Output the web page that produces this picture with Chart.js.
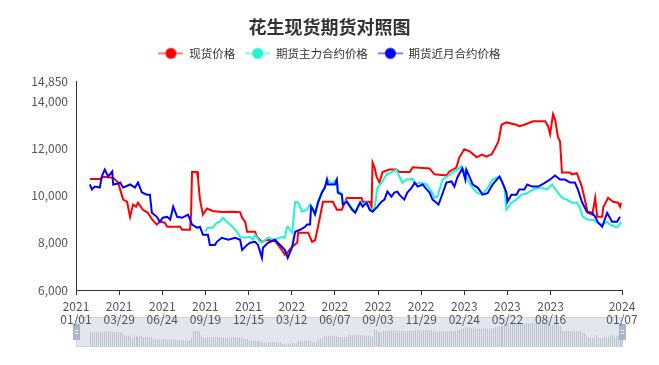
<!DOCTYPE html>
<html>
<head>
<meta charset="utf-8">
<script src="https://cdn.jsdelivr.net/npm/chart.js@4"></script>
<style>
    html, body { margin: 0; padding: 0; background: #fff; }
</style>
</head>
<body>
<canvas id="js--chart" width="659" height="365"></canvas>
<script>
const firstDay = '2021/01/01';
const lastDay = '2024/01/07';
// the source date list is not perfectly daily: one day is missing, one repeats
const skippedDays = ['2022/07/31'];
const repeatedDays = ['2023/07/02'];
const tickEvery = 87;

const seriesNames = ['现货价格', '期货主力合约价格', '期货近月合约价格'];
const seriesColors = ['#ff0000', '#1ff5cf', '#0000ff'];
const priceTicks = [6000, 8000, 10000, 12000, 14000, 14850];

const spotPrice = [
    ['2021/01/29', 10700], ['2021/02/18', 10700], ['2021/02/26', 10800], ['2021/03/17', 10750],
    ['2021/03/27', 10550], ['2021/04/06', 9830], ['2021/04/14', 9740], ['2021/04/20', 9100],
    ['2021/04/26', 9620], ['2021/05/02', 9530], ['2021/05/06', 9700], ['2021/05/16', 9400],
    ['2021/05/26', 9270], ['2021/06/03', 9000], ['2021/06/13', 8770], ['2021/06/19', 8900],
    ['2021/06/29', 8850], ['2021/07/04', 8680], ['2021/07/30', 8680], ['2021/08/03', 8550],
    ['2021/08/19', 8550], ['2021/08/21', 9200], ['2021/08/23', 11000], ['2021/09/02', 11000],
    ['2021/09/04', 10700], ['2021/09/08', 9830], ['2021/09/14', 9190], ['2021/09/22', 9450],
    ['2021/10/04', 9350], ['2021/10/22', 9300], ['2021/11/12', 9320], ['2021/11/28', 9300],
    ['2021/12/02', 9060], ['2021/12/08', 8900], ['2021/12/12', 8470], ['2021/12/28', 8470],
    ['2022/01/01', 8250], ['2022/01/11', 8040], ['2022/01/21', 8130], ['2022/02/06', 8080],
    ['2022/02/20', 7700], ['2022/02/26', 7490], ['2022/03/04', 7600], ['2022/03/13', 7830],
    ['2022/03/23', 8000], ['2022/03/25', 8430], ['2022/04/14', 8430], ['2022/04/22', 8040],
    ['2022/04/28', 8100], ['2022/05/04', 8680], ['2022/05/08', 9100], ['2022/05/14', 9740],
    ['2022/06/03', 9740], ['2022/06/11', 9400], ['2022/06/21', 9400], ['2022/07/01', 9900],
    ['2022/08/01', 9900], ['2022/08/03', 9740], ['2022/08/17', 9740], ['2022/08/21', 9530],
    ['2022/08/23', 11400], ['2022/08/27', 11200], ['2022/08/31', 10800], ['2022/09/06', 10550],
    ['2022/09/12', 11000], ['2022/09/26', 11100], ['2022/10/10', 11100], ['2022/10/16', 11000],
    ['2022/11/06', 11000], ['2022/11/12', 11200], ['2022/12/16', 11150], ['2022/12/26', 10900],
    ['2023/01/19', 10850], ['2023/01/25', 11020], ['2023/02/08', 11190], ['2023/02/14', 11620],
    ['2023/02/24', 11960], ['2023/03/07', 11870], ['2023/03/21', 11620], ['2023/03/31', 11740],
    ['2023/04/10', 11650], ['2023/04/20', 11750], ['2023/04/26', 11960], ['2023/05/04', 12300],
    ['2023/05/10', 13000], ['2023/05/20', 13100], ['2023/06/09', 13000], ['2023/06/15', 12940],
    ['2023/06/25', 13000], ['2023/07/12', 13150], ['2023/08/05', 13150], ['2023/08/11', 12940],
    ['2023/08/15', 12600], ['2023/08/21', 13450], ['2023/08/25', 13230], ['2023/08/31', 12470],
    ['2023/09/04', 12300], ['2023/09/08', 10980], ['2023/09/24', 10980], ['2023/09/28', 10900],
    ['2023/10/08', 10950], ['2023/10/18', 10380], ['2023/10/24', 9830], ['2023/10/30', 9270],
    ['2023/11/08', 9190], ['2023/11/14', 9900], ['2023/11/18', 9100], ['2023/11/28', 9100],
    ['2023/11/30', 9490], ['2023/12/10', 9910], ['2023/12/20', 9740], ['2023/12/30', 9700],
    ['2024/01/03', 9530], ['2024/01/05', 9700]
];

const mainPrice = [
    ['2021/09/18', 8470], ['2021/09/24', 8640], ['2021/10/04', 8640], ['2021/10/12', 8850],
    ['2021/10/18', 8890], ['2021/10/24', 9060], ['2021/11/01', 8890], ['2021/11/08', 8770],
    ['2021/11/14', 8640], ['2021/11/22', 8470], ['2021/11/28', 8250], ['2021/12/08', 8210],
    ['2021/12/18', 8250], ['2021/12/24', 8130], ['2021/12/28', 8340], ['2022/01/07', 8040],
    ['2022/01/13', 8040], ['2022/01/23', 8210], ['2022/02/06', 8130], ['2022/02/20', 8250],
    ['2022/02/26', 8210], ['2022/03/02', 8640], ['2022/03/04', 8680], ['2022/03/13', 8430],
    ['2022/03/19', 9740], ['2022/03/25', 9700], ['2022/04/02', 9320], ['2022/04/12', 9400],
    ['2022/04/18', 9620], ['2022/04/24', 9450], ['2022/04/28', 9250], ['2022/05/04', 9750],
    ['2022/05/12', 10180], ['2022/05/18', 10380], ['2022/05/22', 10700], ['2022/06/01', 10500],
    ['2022/06/11', 10700], ['2022/06/13', 10180], ['2022/06/21', 10080], ['2022/06/23', 9680],
    ['2022/07/01', 9780], ['2022/07/12', 9450], ['2022/07/18', 9320], ['2022/07/28', 9740],
    ['2022/08/03', 9580], ['2022/08/11', 9740], ['2022/08/17', 9450], ['2022/08/23', 9370],
    ['2022/08/27', 9490], ['2022/09/02', 10340], ['2022/09/12', 10600], ['2022/09/20', 10890],
    ['2022/09/30', 10980], ['2022/10/10', 11100], ['2022/10/16', 10810], ['2022/10/22', 10550],
    ['2022/10/30', 10680], ['2022/11/12', 10700], ['2022/11/16', 10470], ['2022/11/26', 10550],
    ['2022/12/10', 10470], ['2022/12/20', 10170], ['2022/12/26', 9910], ['2023/01/01', 9960],
    ['2023/01/11', 10680], ['2023/01/21', 10810], ['2023/01/31', 10980], ['2023/02/10', 11100],
    ['2023/02/18', 11230], ['2023/02/24', 11050], ['2023/03/02', 10680], ['2023/03/11', 10380],
    ['2023/03/21', 10130], ['2023/03/31', 10040], ['2023/04/10', 10260], ['2023/04/22', 10680],
    ['2023/05/06', 10810], ['2023/05/16', 10340], ['2023/05/20', 9400], ['2023/05/30', 9700],
    ['2023/06/09', 9830], ['2023/06/19', 10040], ['2023/06/29', 10080], ['2023/07/12', 10260],
    ['2023/07/26', 10340], ['2023/08/09', 10260], ['2023/08/19', 10470], ['2023/08/29', 10170],
    ['2023/09/08', 9910], ['2023/09/18', 9830], ['2023/09/28', 9700], ['2023/10/08', 9700],
    ['2023/10/14', 9490], ['2023/10/20', 9100], ['2023/10/30', 8980], ['2023/11/10', 8980],
    ['2023/11/18', 8850], ['2023/11/28', 8770], ['2023/12/08', 8890], ['2023/12/14', 8770],
    ['2023/12/24', 8680], ['2023/12/30', 8680], ['2024/01/05', 8890]
];

const nearPrice = [
    ['2021/01/29', 10470], ['2021/02/02', 10260], ['2021/02/08', 10380], ['2021/02/18', 10340],
    ['2021/02/22', 10810], ['2021/02/28', 11100], ['2021/03/07', 10800], ['2021/03/15', 11020],
    ['2021/03/17', 10470], ['2021/03/25', 10500], ['2021/03/31', 10550], ['2021/04/06', 10340],
    ['2021/04/20', 10470], ['2021/04/30', 10340], ['2021/05/06', 10550], ['2021/05/14', 10130],
    ['2021/05/24', 10040], ['2021/05/30', 10040], ['2021/06/03', 9270], ['2021/06/13', 9100],
    ['2021/06/19', 8890], ['2021/06/25', 9060], ['2021/07/04', 9100], ['2021/07/10', 8980],
    ['2021/07/16', 9530], ['2021/07/24', 9100], ['2021/08/03', 9060], ['2021/08/15', 9190],
    ['2021/08/23', 8770], ['2021/09/02', 8640], ['2021/09/08', 8680], ['2021/09/14', 8340],
    ['2021/09/24', 8340], ['2021/09/28', 7910], ['2021/10/08', 7910], ['2021/10/12', 8040],
    ['2021/10/22', 8210], ['2021/11/04', 8130], ['2021/11/18', 8210], ['2021/11/28', 8130],
    ['2021/12/02', 7700], ['2021/12/12', 7910], ['2021/12/18', 8000], ['2021/12/28', 8040],
    ['2022/01/03', 7910], ['2022/01/11', 7360], ['2022/01/13', 7790], ['2022/01/23', 8000],
    ['2022/02/06', 8130], ['2022/02/20', 7830], ['2022/02/26', 7700], ['2022/03/02', 7490],
    ['2022/03/04', 7360], ['2022/03/13', 7830], ['2022/03/19', 8470], ['2022/03/29', 8550],
    ['2022/04/08', 8680], ['2022/04/12', 8770], ['2022/04/18', 8770], ['2022/04/20', 9530],
    ['2022/04/24', 9400], ['2022/04/28', 9200], ['2022/05/04', 9700], ['2022/05/12', 10130],
    ['2022/05/18', 10340], ['2022/05/22', 10680], ['2022/05/24', 10470], ['2022/06/01', 10470],
    ['2022/06/07', 10470], ['2022/06/11', 10680], ['2022/06/13', 10130], ['2022/06/21', 10040],
    ['2022/06/23', 9620], ['2022/07/01', 9740], ['2022/07/12', 9400], ['2022/07/18', 9270],
    ['2022/07/28', 9700], ['2022/08/03', 9530], ['2022/08/11', 9700], ['2022/08/17', 9400],
    ['2022/08/23', 9320], ['2022/09/02', 9530], ['2022/09/10', 9740], ['2022/09/16', 9830],
    ['2022/09/22', 10170], ['2022/09/30', 9960], ['2022/10/06', 10130], ['2022/10/12', 10170],
    ['2022/10/16', 10040], ['2022/10/26', 9830], ['2022/11/01', 10130], ['2022/11/10', 10340],
    ['2022/11/16', 10550], ['2022/11/22', 10380], ['2022/12/02', 10470], ['2022/12/10', 10260],
    ['2022/12/16', 10130], ['2022/12/22', 9830], ['2022/12/30', 9700], ['2023/01/03', 9620],
    ['2023/01/09', 9960], ['2023/01/19', 10550], ['2023/01/29', 10600], ['2023/02/04', 10380],
    ['2023/02/10', 10770], ['2023/02/20', 11150], ['2023/02/26', 10680], ['2023/02/28', 11100],
    ['2023/03/07', 10770], ['2023/03/13', 10470], ['2023/03/23', 10340], ['2023/04/02', 10040],
    ['2023/04/12', 10100], ['2023/04/22', 10470], ['2023/05/06', 10810], ['2023/05/12', 10550],
    ['2023/05/20', 10130], ['2023/05/22', 9740], ['2023/05/30', 10040], ['2023/06/09', 10040],
    ['2023/06/15', 10260], ['2023/06/25', 10260], ['2023/07/01', 10470], ['2023/07/10', 10380],
    ['2023/07/22', 10380], ['2023/07/30', 10470], ['2023/08/09', 10600], ['2023/08/15', 10680],
    ['2023/08/25', 10850], ['2023/09/04', 10680], ['2023/09/14', 10680], ['2023/09/24', 10550],
    ['2023/10/04', 10550], ['2023/10/10', 10260], ['2023/10/18', 9740], ['2023/10/28', 9320],
    ['2023/11/08', 9270], ['2023/11/14', 9100], ['2023/11/20', 8850], ['2023/11/28', 8680],
    ['2023/12/08', 9270], ['2023/12/18', 8890], ['2023/12/28', 8890], ['2024/01/03', 9100]
];

Chart.defaults.font.family = "'Noto Sans CJK SC', 'Noto Sans', sans-serif";

function fmt(d) {
    const m = String(d.getUTCMonth() + 1).padStart(2, '0');
    const day = String(d.getUTCDate()).padStart(2, '0');
    return `${d.getUTCFullYear()}/${m}/${day}`;
}

function makeLabels() {
    const labels = [];
    const [y, m, day] = firstDay.split('/').map(Number);
    const d = new Date(Date.UTC(y, m - 1, day));
    while (true) {
        const l = fmt(d);
        if (!skippedDays.includes(l)) labels.push(l);
        if (repeatedDays.includes(l)) labels.push(l);
        if (l === lastDay) break;
        d.setUTCDate(d.getUTCDate() + 1);
    }
    return labels;
}

const labels = makeLabels();
const lastIndex = labels.length - 1;

// one slot per category, null where there is no quote
function toDaily(points) {
    const out = new Array(labels.length).fill(null);
    points.forEach(([date, value]) => {
        const i = labels.indexOf(date);
        if (i >= 0) out[i] = value;
    });
    return out;
}

function legendIcon(color) {
    const c = document.createElement('canvas');
    c.width = 25;
    c.height = 14;
    const ctx = c.getContext('2d');
    ctx.globalAlpha = 0.5;
    ctx.strokeStyle = color;
    ctx.lineWidth = 2;
    ctx.beginPath();
    ctx.moveTo(0, 7);
    ctx.lineTo(25, 7);
    ctx.stroke();
    ctx.globalAlpha = 1;
    ctx.fillStyle = color;
    ctx.beginPath();
    ctx.arc(12.5, 7, 5.5, 0, Math.PI * 2);
    ctx.fill();
    return c;
}

// leave some room between the legend and the plot
const legendGap = {
    id: 'legendGap',
    beforeInit(chart) {
        const fit = chart.legend.fit;
        chart.legend.fit = function () {
            fit.bind(chart.legend)();
            this.height += 12;
        };
    }
};

// the zoom slider strip under the axis, with the spot price as its shadow
const sliderPlugin = {
    id: 'slider',
    beforeDraw(chart) {
        const { ctx, chartArea, scales: { x } } = chart;
        const top = chartArea.bottom + 27;
        const h = 30;
        const left = chartArea.left;
        const right = chartArea.right;
        ctx.save();
        ctx.fillStyle = '#e2e6ee';
        ctx.fillRect(left, top, right - left, h);

        const data = chart.data.datasets[0].data;
        let last = null;
        ctx.strokeStyle = 'rgba(175,183,198,0.75)';
        ctx.lineWidth = 1;
        ctx.beginPath();
        for (let i = 0; i < data.length; i++) {
            if (data[i] != null) last = data[i];
            if (last == null || i % 4) continue;
            const px = Math.round(x.getPixelForValue(i)) + 0.5;
            const bh = (last - 6800) / 6800 * 26;
            ctx.moveTo(px, top + h);
            ctx.lineTo(px, top + h - bh);
        }
        ctx.stroke();

        ctx.strokeStyle = '#cdd3de';
        ctx.strokeRect(left + 0.5, top + 0.5, right - left - 1, h - 1);

        [left, right].forEach(cx => {
            ctx.fillStyle = '#a9b7cc';
            ctx.fillRect(cx - 3, top + 7, 7, 16);
            ctx.strokeStyle = '#fff';
            ctx.beginPath();
            ctx.moveTo(cx - 1, top + 13.5);
            ctx.lineTo(cx + 2, top + 13.5);
            ctx.moveTo(cx - 1, top + 16.5);
            ctx.lineTo(cx + 2, top + 16.5);
            ctx.stroke();
        });
        ctx.restore();
    }
};

const seriesData = [spotPrice, mainPrice, nearPrice];

const config = {
    type: 'line',
    data: {
        labels: labels,
        datasets: seriesData.map((points, i) => ({
            label: seriesNames[i],
            data: toDaily(points),
            borderColor: seriesColors[i],
            backgroundColor: seriesColors[i],
            pointStyle: legendIcon(seriesColors[i]),
            order: 3 - i
        }))
    },
    options: {
        responsive: false,
        animation: false,
        spanGaps: true,
        elements: {
            point: { radius: 0, hoverRadius: 0 },
            line: { borderWidth: 2, tension: 0 }
        },
        plugins: {
            title: {
                display: true,
                text: '花生现货期货对照图',
                color: '#333',
                font: { size: 18, weight: 'bold' },
                padding: { top: 16, bottom: 0 }
            },
            legend: {
                labels: {
                    usePointStyle: true,
                    pointStyleWidth: 25,
                    color: '#333',
                    font: { size: 11.5 },
                    padding: 10,
                    sort: (a, b) => a.datasetIndex - b.datasetIndex
                }
            },
            tooltip: { enabled: false }
        },
        scales: {
            x: {
                ticks: {
                    autoSkip: false,
                    maxRotation: 0,
                    color: '#555',
                    font: { size: 12, lineHeight: 1.1 },
                    padding: 5,
                    callback: function (value) {
                        const l = this.getLabelForValue(value);
                        return [l.slice(0, 4), l.slice(5)];
                    }
                },
                grid: { drawOnChartArea: false, tickLength: 5, color: '#333' },
                border: { color: '#333' },
                afterBuildTicks: scale => {
                    scale.ticks = scale.ticks.filter(t =>
                        (t.value % tickEvery === 0 && t.value <= lastIndex - tickEvery) || t.value === lastIndex);
                },
                afterFit: scale => {
                    scale.height = 75;
                    scale.paddingRight = 37;
                }
            },
            y: {
                min: 6000,
                max: 14850,
                ticks: { color: '#555', font: { size: 12 }, padding: 8 },
                grid: { display: false, drawTicks: false },
                border: { display: true, color: '#333' },
                afterBuildTicks: scale => {
                    scale.ticks = priceTicks.map(v => ({ value: v }));
                },
                afterFit: scale => {
                    scale.width = 76;
                }
            }
        }
    },
    plugins: [legendGap, sliderPlugin]
};

new Chart(document.getElementById('js--chart'), config);
</script>
</body>
</html>
